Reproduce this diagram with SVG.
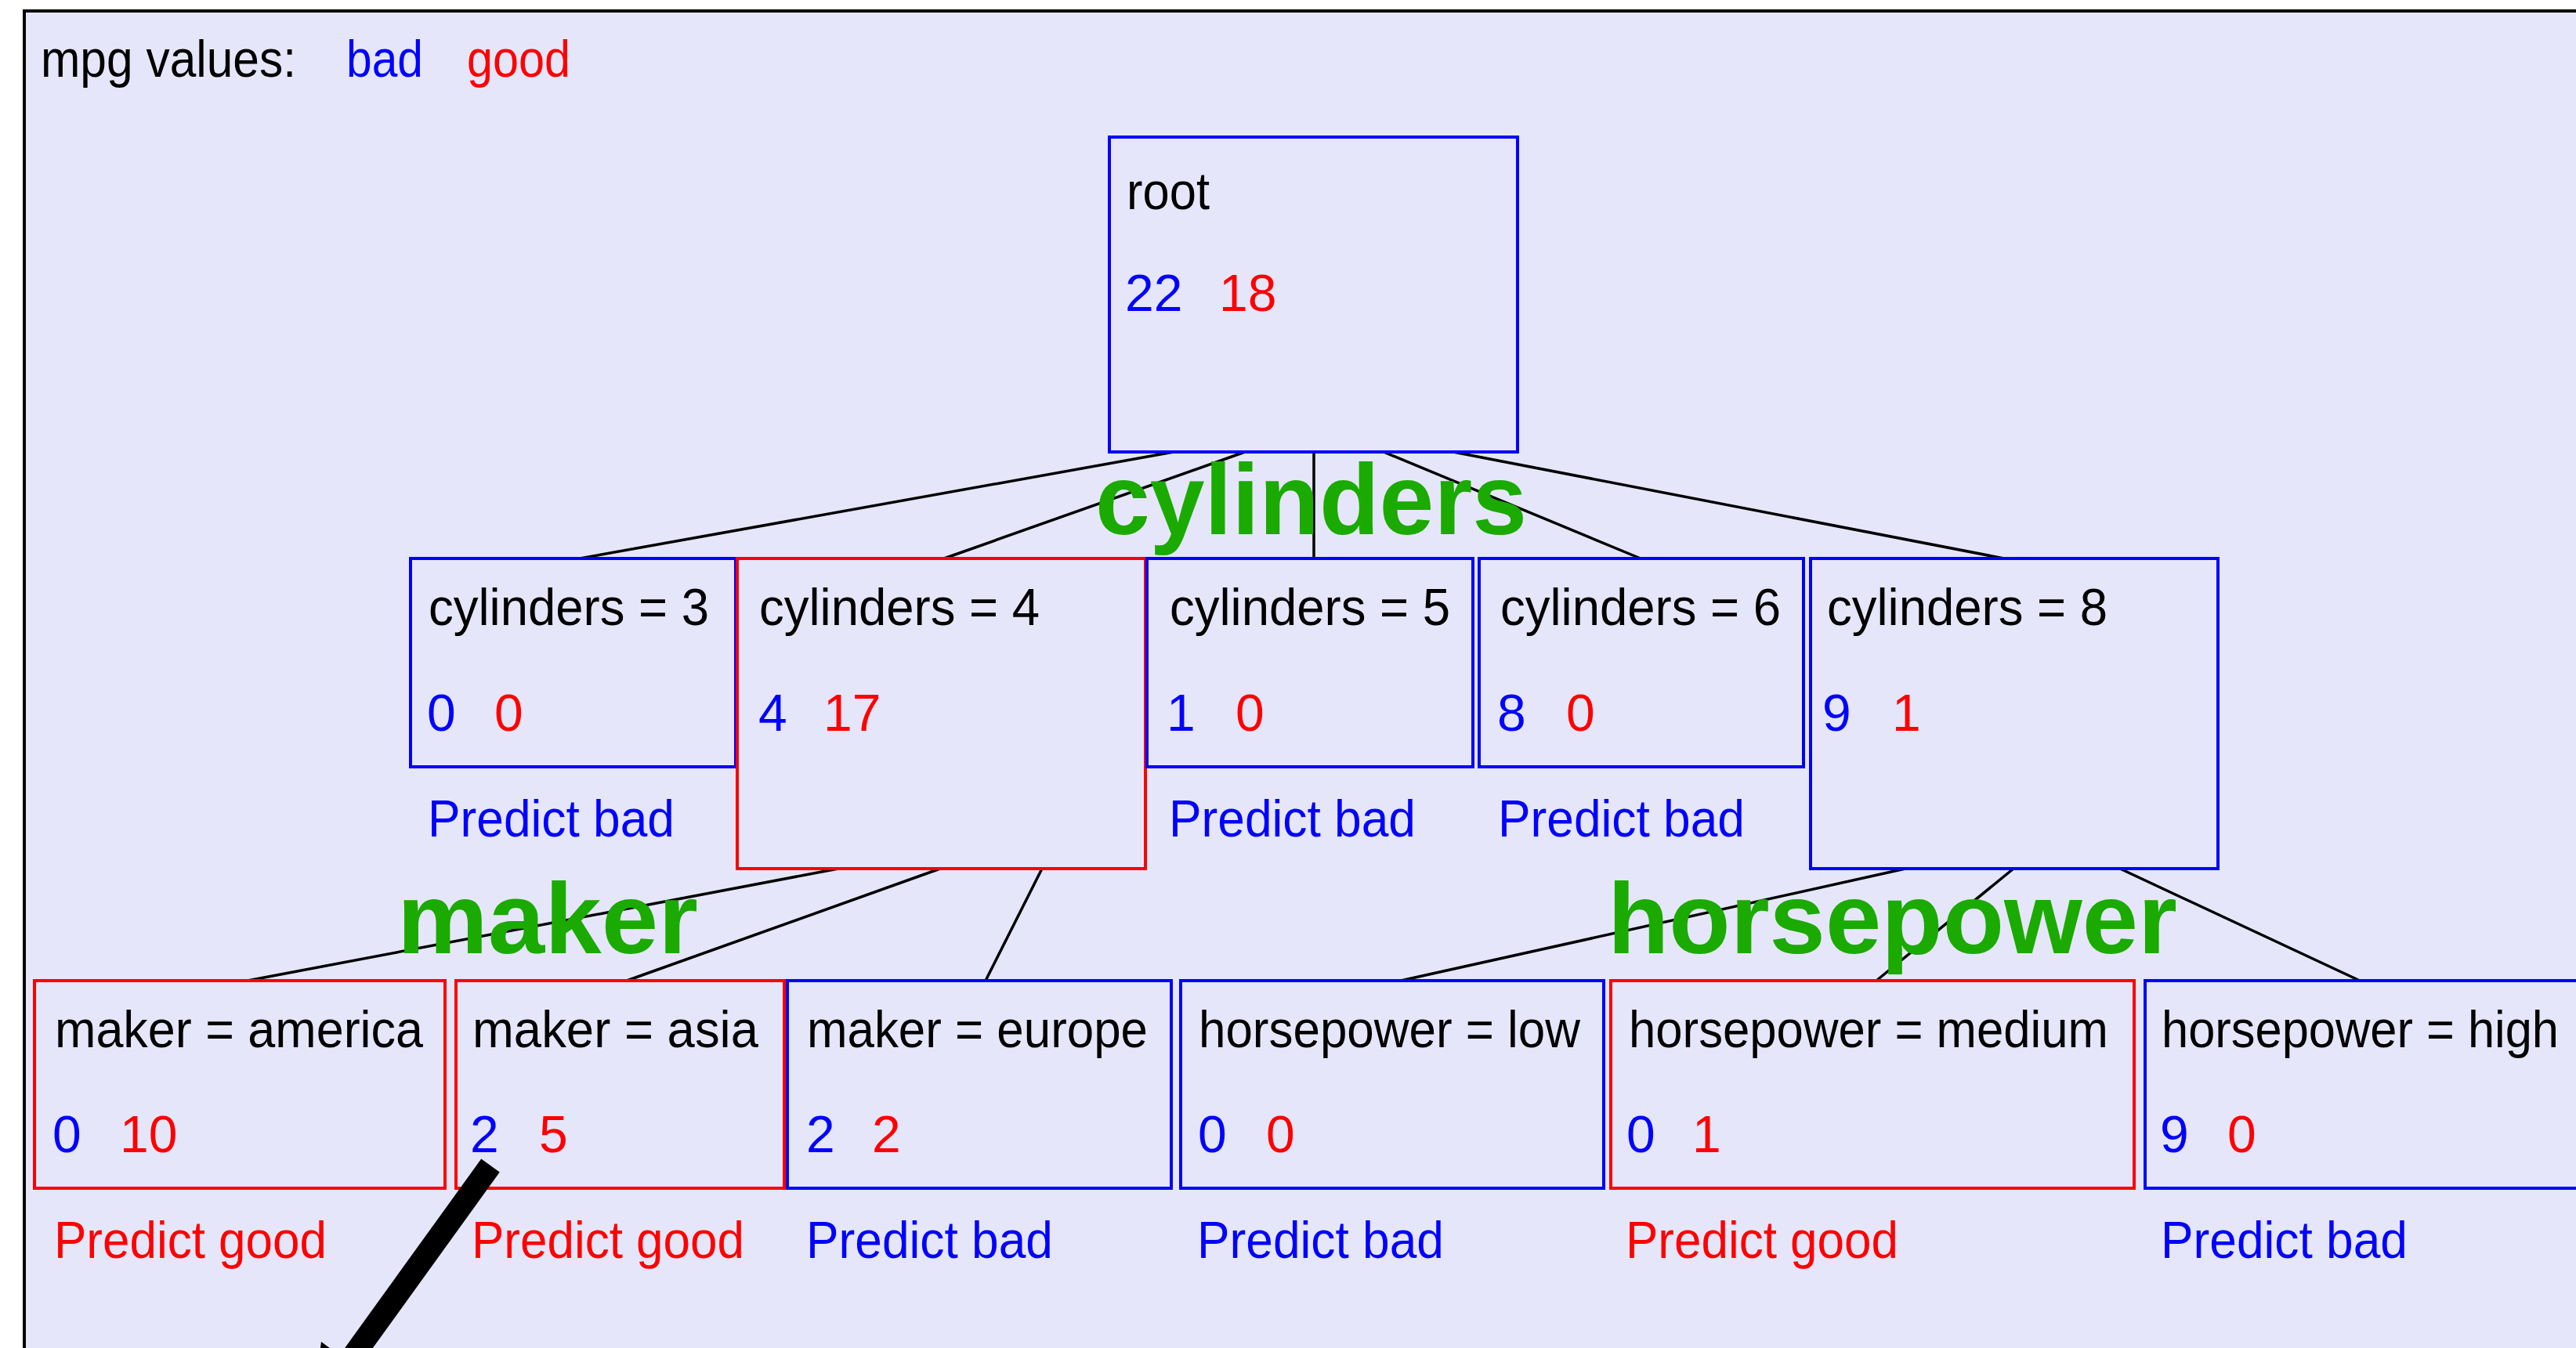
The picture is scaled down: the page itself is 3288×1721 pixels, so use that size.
<svg xmlns="http://www.w3.org/2000/svg" width="3288" height="1721" viewBox="0 0 3288 1721">
<style>
text{font-family:"Liberation Sans",Arial,sans-serif;font-size:66px}
.k{fill:#000}
.b{fill:#0000ff}
.r{fill:#ff0000}
.nb{fill:none;stroke:#0000ff;stroke-width:4}
.nr{fill:none;stroke:#ff0000;stroke-width:4}
.c{stroke:#000;stroke-width:3.5;fill:none}
.g{fill:#1aaa00;font-weight:bold;font-size:128px}
</style>
<rect x="0" y="0" width="3288" height="1721" fill="#ffffff"/>
<rect x="31" y="14" width="3300" height="1800" fill="#e6e6fa" stroke="#000" stroke-width="4"/>
<g id="legend">
<text class="k" x="52" y="98" textLength="326" lengthAdjust="spacingAndGlyphs">mpg values:</text>
<text class="b" x="442" y="98" textLength="98" lengthAdjust="spacingAndGlyphs">bad</text>
<text class="r" x="596" y="98" textLength="132" lengthAdjust="spacingAndGlyphs">good</text>
</g>
<g id="connectors">
<line class="c" x1="1498" y1="577" x2="740" y2="713"/>
<line class="c" x1="1589" y1="577" x2="1205" y2="713"/>
<line class="c" x1="1677" y1="577" x2="1677" y2="713"/>
<line class="c" x1="1766" y1="577" x2="2094" y2="713"/>
<line class="c" x1="1855" y1="577" x2="2558" y2="713"/>
<line class="c" x1="1070" y1="1109" x2="316" y2="1252"/>
<line class="c" x1="1200" y1="1109" x2="800" y2="1252"/>
<line class="c" x1="1330" y1="1109" x2="1258" y2="1252"/>
<line class="c" x1="2432" y1="1109" x2="1788" y2="1252"/>
<line class="c" x1="2570" y1="1109" x2="2395" y2="1252"/>
<line class="c" x1="2706" y1="1109" x2="3012" y2="1252"/>
</g>
<g id="root">
<rect class="nb" x="1416" y="175" width="521" height="402"/>
<text class="k" x="1438" y="267" textLength="106" lengthAdjust="spacingAndGlyphs">root</text>
<text class="b" x="1436" y="397">22</text>
<text class="r" x="1556" y="397">18</text>
</g>
<g id="cyl3">
<rect class="nb" x="524" y="713" width="415" height="266"/>
<text class="k" x="547" y="798" textLength="358" lengthAdjust="spacingAndGlyphs">cylinders = 3</text>
<text class="b" x="545" y="933">0</text>
<text class="r" x="631" y="933">0</text>
<text class="b" x="546" y="1068" textLength="315" lengthAdjust="spacingAndGlyphs">Predict bad</text>
</g>
<g id="cyl4">
<rect class="nr" x="941" y="713" width="521" height="396"/>
<text class="k" x="969" y="798" textLength="358" lengthAdjust="spacingAndGlyphs">cylinders = 4</text>
<text class="b" x="968" y="933">4</text>
<text class="r" x="1051" y="933">17</text>
</g>
<g id="cyl5">
<rect class="nb" x="1464" y="713" width="416" height="266"/>
<text class="k" x="1493" y="798" textLength="358" lengthAdjust="spacingAndGlyphs">cylinders = 5</text>
<text class="b" x="1489" y="933">1</text>
<text class="r" x="1577" y="933">0</text>
<text class="b" x="1492" y="1068" textLength="315" lengthAdjust="spacingAndGlyphs">Predict bad</text>
</g>
<g id="cyl6">
<rect class="nb" x="1888" y="713" width="414" height="266"/>
<text class="k" x="1915" y="798" textLength="358" lengthAdjust="spacingAndGlyphs">cylinders = 6</text>
<text class="b" x="1911" y="933">8</text>
<text class="r" x="1999" y="933">0</text>
<text class="b" x="1912" y="1068" textLength="315" lengthAdjust="spacingAndGlyphs">Predict bad</text>
</g>
<g id="cyl8">
<rect class="nb" x="2311" y="713" width="520" height="396"/>
<text class="k" x="2332" y="798" textLength="358" lengthAdjust="spacingAndGlyphs">cylinders = 8</text>
<text class="b" x="2326" y="933">9</text>
<text class="r" x="2415" y="933">1</text>
</g>
<g id="maker-america">
<rect class="nr" x="44" y="1252" width="524" height="265"/>
<text class="k" x="70" y="1337" textLength="470" lengthAdjust="spacingAndGlyphs">maker = america</text>
<text class="b" x="67" y="1471">0</text>
<text class="r" x="153" y="1471">10</text>
<text class="r" x="69" y="1606" textLength="348" lengthAdjust="spacingAndGlyphs">Predict good</text>
</g>
<g id="maker-asia">
<rect class="nr" x="582" y="1252" width="419" height="265"/>
<text class="k" x="603" y="1337" textLength="365" lengthAdjust="spacingAndGlyphs">maker = asia</text>
<text class="b" x="600" y="1471">2</text>
<text class="r" x="688" y="1471">5</text>
<text class="r" x="602" y="1606" textLength="348" lengthAdjust="spacingAndGlyphs">Predict good</text>
</g>
<g id="maker-europe">
<rect class="nb" x="1005" y="1252" width="490" height="265"/>
<text class="k" x="1030" y="1337" textLength="435" lengthAdjust="spacingAndGlyphs">maker = europe</text>
<text class="b" x="1029" y="1471">2</text>
<text class="r" x="1113" y="1471">2</text>
<text class="b" x="1029" y="1606" textLength="315" lengthAdjust="spacingAndGlyphs">Predict bad</text>
</g>
<g id="hp-low">
<rect class="nb" x="1507" y="1252" width="540" height="265"/>
<text class="k" x="1530" y="1337" textLength="487" lengthAdjust="spacingAndGlyphs">horsepower = low</text>
<text class="b" x="1529" y="1471">0</text>
<text class="r" x="1616" y="1471">0</text>
<text class="b" x="1528" y="1606" textLength="315" lengthAdjust="spacingAndGlyphs">Predict bad</text>
</g>
<g id="hp-medium">
<rect class="nr" x="2056" y="1252" width="668" height="265"/>
<text class="k" x="2079" y="1337" textLength="612" lengthAdjust="spacingAndGlyphs">horsepower = medium</text>
<text class="b" x="2076" y="1471">0</text>
<text class="r" x="2160" y="1471">1</text>
<text class="r" x="2075" y="1606" textLength="348" lengthAdjust="spacingAndGlyphs">Predict good</text>
</g>
<g id="hp-high">
<rect class="nb" x="2738" y="1252" width="700" height="265"/>
<text class="k" x="2759" y="1337" textLength="507" lengthAdjust="spacingAndGlyphs">horsepower = high</text>
<text class="b" x="2757" y="1471">9</text>
<text class="r" x="2843" y="1471">0</text>
<text class="b" x="2758" y="1606" textLength="315" lengthAdjust="spacingAndGlyphs">Predict bad</text>
</g>
<g id="split-labels">
<text class="g" x="1398" y="682" textLength="551" lengthAdjust="spacingAndGlyphs">cylinders</text>
<text class="g" x="507" y="1217" textLength="384" lengthAdjust="spacingAndGlyphs">maker</text>
<text class="g" x="2052" y="1217" textLength="727" lengthAdjust="spacingAndGlyphs">horsepower</text>
</g>
<g id="pointer">
<line x1="626" y1="1488" x2="445" y2="1739" stroke="#000" stroke-width="29"/>
<polygon points="410,1713 480,1765 398,1804" fill="#000"/>
</g>
</svg>
